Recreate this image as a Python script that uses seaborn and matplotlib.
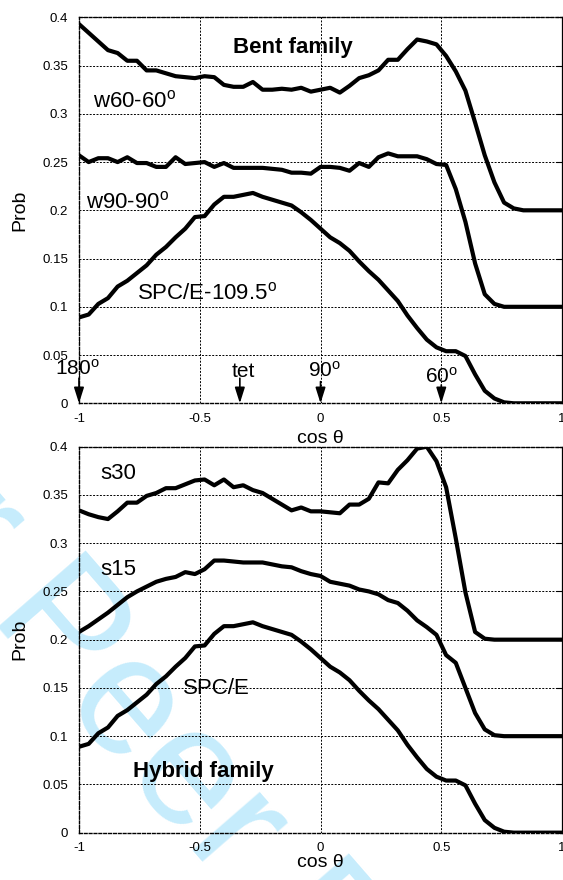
import numpy as np
import pandas as pd
import matplotlib
matplotlib.use("Agg")
import matplotlib.pyplot as plt
import seaborn as sns

# bin centres of cos(theta)
cos_theta = np.linspace(-1.0, 1.0, 51)

# Bent family
w60_60 = [0.393, 0.384, 0.375, 0.366, 0.363, 0.355, 0.355, 0.345, 0.345, 0.342,
          0.339, 0.338, 0.337, 0.339, 0.338, 0.330, 0.328, 0.328, 0.333, 0.325,
          0.325, 0.326, 0.325, 0.327, 0.323, 0.325, 0.327, 0.322, 0.329, 0.337,
          0.340, 0.345, 0.356, 0.356, 0.367, 0.377, 0.375, 0.372, 0.360, 0.344,
          0.324, 0.291, 0.257, 0.229, 0.208, 0.202, 0.200, 0.200, 0.200, 0.200, 0.200]
w90_90 = [0.257, 0.250, 0.254, 0.254, 0.250, 0.255, 0.249, 0.249, 0.245, 0.245,
          0.255, 0.248, 0.249, 0.250, 0.245, 0.249, 0.244, 0.244, 0.244, 0.244,
          0.243, 0.242, 0.239, 0.239, 0.238, 0.245, 0.245, 0.244, 0.241, 0.249,
          0.245, 0.255, 0.259, 0.256, 0.256, 0.256, 0.253, 0.248, 0.247, 0.222,
          0.188, 0.145, 0.113, 0.103, 0.100, 0.100, 0.100, 0.100, 0.100, 0.100, 0.100]
spce = [0.089, 0.092, 0.103, 0.109, 0.121, 0.127, 0.135, 0.143, 0.154, 0.162,
        0.172, 0.181, 0.193, 0.194, 0.206, 0.214, 0.214, 0.216, 0.218, 0.214,
        0.211, 0.208, 0.205, 0.198, 0.190, 0.181, 0.172, 0.166, 0.158, 0.147,
        0.137, 0.128, 0.117, 0.106, 0.091, 0.078, 0.066, 0.058, 0.054, 0.054,
        0.049, 0.030, 0.013, 0.005, 0.001, 0.000, 0.000, 0.000, 0.000, 0.000, 0.000]

# Hybrid family
s30 = [0.334, 0.330, 0.327, 0.325, 0.333, 0.342, 0.342, 0.349, 0.352, 0.357,
       0.357, 0.361, 0.365, 0.366, 0.360, 0.366, 0.358, 0.360, 0.355, 0.352,
       0.346, 0.340, 0.334, 0.337, 0.333, 0.333, 0.332, 0.331, 0.340, 0.340,
       0.346, 0.363, 0.362, 0.376, 0.386, 0.398, 0.400, 0.385, 0.358, 0.305,
       0.249, 0.208, 0.201, 0.200, 0.200, 0.200, 0.200, 0.200, 0.200, 0.200, 0.200]
s15 = [0.208, 0.214, 0.221, 0.228, 0.236, 0.244, 0.250, 0.255, 0.260, 0.263,
       0.265, 0.270, 0.268, 0.273, 0.282, 0.282, 0.281, 0.280, 0.280, 0.280,
       0.278, 0.276, 0.275, 0.271, 0.268, 0.266, 0.260, 0.258, 0.256, 0.252,
       0.250, 0.247, 0.241, 0.238, 0.230, 0.220, 0.213, 0.205, 0.184, 0.176,
       0.150, 0.124, 0.107, 0.101, 0.100, 0.100, 0.100, 0.100, 0.100, 0.100, 0.100]

x_ticks = [-1, -0.5, 0, 0.5, 1]
x_tick_labels = ["-1", "-0.5", "0", "0.5", "1"]
y_ticks = [0, 0.05, 0.1, 0.15, 0.2, 0.25, 0.3, 0.35, 0.4]
y_tick_labels = ["0", "0.05", "0.1", "0.15", "0.2", "0.25", "0.3", "0.35", "0.4"]

# reference angles marked with arrows: (label, cos value)
marker_labels = ["180$^\\mathrm{o}$", "tet", "90$^\\mathrm{o}$", "60$^\\mathrm{o}$"]
marker_cos = [-1.0, -0.334, 0.0, 0.5]

sns.set_theme(style="white")
plt.rcParams["font.family"] = ["Liberation Sans", "DejaVu Sans"]
plt.rcParams["mathtext.fontset"] = "custom"
plt.rcParams["mathtext.rm"] = "Liberation Sans"
plt.rcParams["mathtext.it"] = "Liberation Sans:italic"
plt.rcParams["mathtext.bf"] = "Liberation Sans:bold"
plt.rcParams["text.color"] = "black"
plt.rcParams["axes.labelcolor"] = "black"
plt.rcParams["xtick.color"] = "black"
plt.rcParams["ytick.color"] = "black"


def long_frame(series):
    frames = []
    for name, vals in series.items():
        frames.append(pd.DataFrame({"cos": cos_theta, "prob": vals, "model": name}))
    return pd.concat(frames, ignore_index=True)


bent = long_frame({"w60-60": w60_60, "w90-90": w90_90, "SPC/E": spce})
hybrid = long_frame({"s30": s30, "s15": s15, "SPC/E": spce})

fig = plt.figure(figsize=(5.63, 8.8), dpi=100)
fig.patch.set_facecolor("white")

# faint journal watermark behind everything
fig.text(0.418, 0.052, "For Peer Review", rotation=-49, rotation_mode="anchor",
         fontsize=121, color="#c6ecfc", ha="center", va="center", zorder=-5)

ax1 = fig.add_axes([0.1403, 0.5417, 0.858, 0.4386])
ax2 = fig.add_axes([0.1403, 0.0538, 0.858, 0.4386])

for ax, df in ((ax1, bent), (ax2, hybrid)):
    ax.set_facecolor("none")
    sns.lineplot(data=df, x="cos", y="prob", units="model", estimator=None,
                 color="black", linewidth=3, sort=False, ax=ax, zorder=3)
    ax.set_xlim(-1, 1)
    ax.set_ylim(0, 0.4)
    ax.set_xticks(x_ticks)
    ax.set_xticklabels(x_tick_labels)
    ax.set_yticks(y_ticks)
    ax.set_yticklabels(y_tick_labels)
    ax.set_xlabel("")
    ax.set_ylabel("")
    ax.set_axisbelow(True)
    ax.grid(True, color="black", linestyle=(0, (2, 1.5)), linewidth=0.7)
    ax.tick_params(axis="both", length=0, labelsize=9.5, colors="black")
    ax.tick_params(axis="x", pad=7)
    ax.tick_params(axis="y", pad=8)
    ax.tick_params(axis="y", right=True, direction="in", length=4, width=0.8)
    for side in ("left", "top", "bottom"):
        ax.spines[side].set_linestyle((0, (2, 1.5)))
        ax.spines[side].set_linewidth(1.0)
        ax.spines[side].set_color("black")
    ax.spines["right"].set_linewidth(0.9)
    ax.spines["right"].set_color("black")
    ax.text(-1.244, 0.2, "Prob", rotation=90, ha="center", va="center",
            fontsize=14, clip_on=False)

ax1.text(0.0, -0.0408, "cos θ", ha="center", va="baseline", fontsize=14, clip_on=False)
ax2.text(0.0, -0.0352, "cos θ", ha="center", va="baseline", fontsize=14, clip_on=False)

# curve labels, top panel
ax1.text(-0.362, 0.3627, "Bent family", fontsize=16, fontweight="bold", va="baseline")
ax1.text(-0.942, 0.3067, "w60-60$^\\mathrm{o}$", fontsize=16, va="baseline")
ax1.text(-0.969, 0.2020, "w90-90$^\\mathrm{o}$", fontsize=16, va="baseline")
ax1.text(-0.761, 0.1078, "SPC/E-109.5$^\\mathrm{o}$", fontsize=16, va="baseline")

# angle markers
label_x = [-1.099, -0.368, -0.052, 0.433]
label_y = [0.0293, 0.0276, 0.0276, 0.0213]
arrow_top = [0.026, 0.026, 0.0225, 0.019]
for text, cx, lx, ly, top in zip(marker_labels, marker_cos, label_x, label_y, arrow_top):
    ax1.text(lx, ly, text, fontsize=15, va="baseline", ha="left", clip_on=False, zorder=4)
    ax1.annotate("", xy=(cx, 0.0), xytext=(cx, top),
                 arrowprops=dict(arrowstyle="-|>,head_length=0.95,head_width=0.3",
                                 color="black", lw=1.2, mutation_scale=10,
                                 shrinkA=0, shrinkB=0),
                 annotation_clip=False, zorder=4)

# curve labels, bottom panel
ax2.text(-0.913, 0.366, "s30", fontsize=16, va="baseline")
ax2.text(-0.913, 0.267, "s15", fontsize=16, va="baseline")
ax2.text(-0.568, 0.1437, "SPC/E", fontsize=16, va="baseline")
ax2.text(-0.775, 0.058, "Hybrid family", fontsize=16, fontweight="bold", va="baseline")

fig.savefig("out.png", dpi=100, facecolor="white")
